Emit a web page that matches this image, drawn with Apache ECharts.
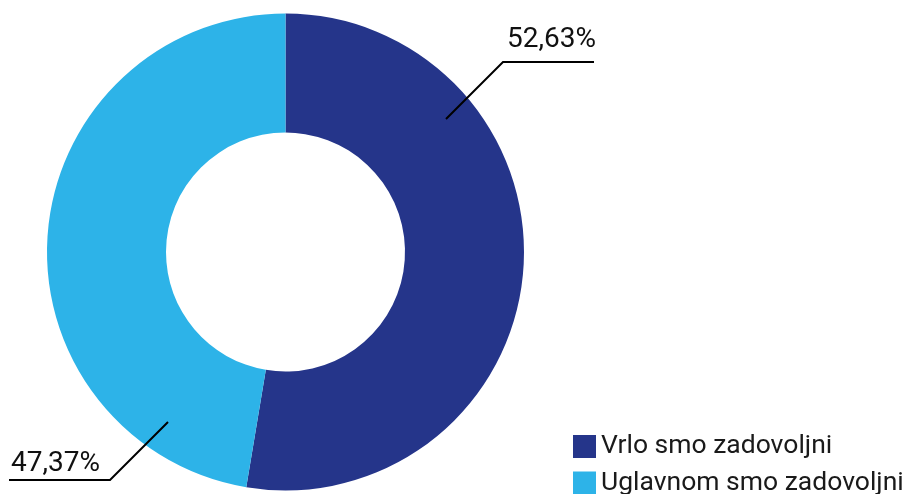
<!DOCTYPE html>
<html>
<head>
<meta charset="utf-8">
<script src="https://cdn.jsdelivr.net/npm/echarts@6/dist/echarts.min.js"></script>
<style>
  html, body { margin: 0; padding: 0; background: #ffffff; }
  #chart { width: 913px; height: 494px; }
</style>
</head>
<body>
<div id="chart"></div>
<script>
// ---- data ----
const categories = ['Vrlo smo zadovoljni', 'Uglavnom smo zadovoljni'];
const shares = [52.63, 47.37];

// ---- styling / layout (not data) ----
const colors = ['#25358A', '#2DB3E8'];
const FONT = 'Roboto';
// leader line: elbow point, horizontal run (sign = direction), 45° diagonal run toward the ring
const leaderElbow = [[503, 62], [110, 480]];
const leaderSide = [1, -1];
const leaderFlat = [91, 101];
const leaderDiag = [57, 58];
// label text anchor (left edge, vertical middle)
const labelPos = [[507, 39.5], [11, 464]];

const fmt = v => v.toFixed(2).replace('.', ',') + '%';

const CENTER = [285.5, 252];
const RADIUS = [119.5, 238.5];

const chart = echarts.init(document.getElementById('chart'), null, { renderer: 'canvas' });
chart.setOption({
  animation: false,
  backgroundColor: '#ffffff',
  legend: {
    orient: 'vertical',
    left: 573, top: 433,
    height: 120,
    padding: 0,
    icon: 'rect',
    itemWidth: 23, itemHeight: 23, itemGap: 9.5,
    data: categories,
    textStyle: { fontFamily: FONT, fontSize: 26.5, color: '#1a1a1a' }
  },
  series: [
    {
      // the donut itself
      type: 'pie',
      z: 2,
      center: CENTER,
      radius: RADIUS,
      startAngle: 90,
      clockwise: true,
      emphasis: { scale: false },
      label: { show: false },
      labelLine: { show: false },
      data: categories.map((name, i) => ({
        name: name, value: shares[i], itemStyle: { color: colors[i] }
      }))
    },
    {
      // same data, invisible sectors: carries the value labels so leader lines sit on top
      type: 'pie',
      z: 5,
      silent: true,
      center: CENTER,
      radius: RADIUS,
      startAngle: 90,
      clockwise: true,
      avoidLabelOverlap: false,
      emphasis: { disabled: true },
      itemStyle: { color: 'rgba(0,0,0,0)' },
      data: categories.map((name, i) => ({ name: name, value: shares[i] })),
      label: {
        show: true,
        position: 'outside',
        formatter: p => fmt(p.value),
        fontFamily: FONT, fontSize: 28, color: '#111111'
      },
      labelLine: {
        show: true,
        showAbove: true,
        lineStyle: { color: '#000000', width: 2 }
      },
      labelLayout: p => {
        const i = p.dataIndex;
        const ex = leaderElbow[i][0], ey = leaderElbow[i][1], s = leaderSide[i];
        return {
          x: labelPos[i][0],
          y: labelPos[i][1],
          align: 'left',
          verticalAlign: 'middle',
          labelLinePoints: [
            [ex - s * leaderDiag[i], ey + s * leaderDiag[i]],
            [ex, ey],
            [ex + s * leaderFlat[i], ey]
          ]
        };
      }
    }
  ]
});
</script>
</body>
</html>
